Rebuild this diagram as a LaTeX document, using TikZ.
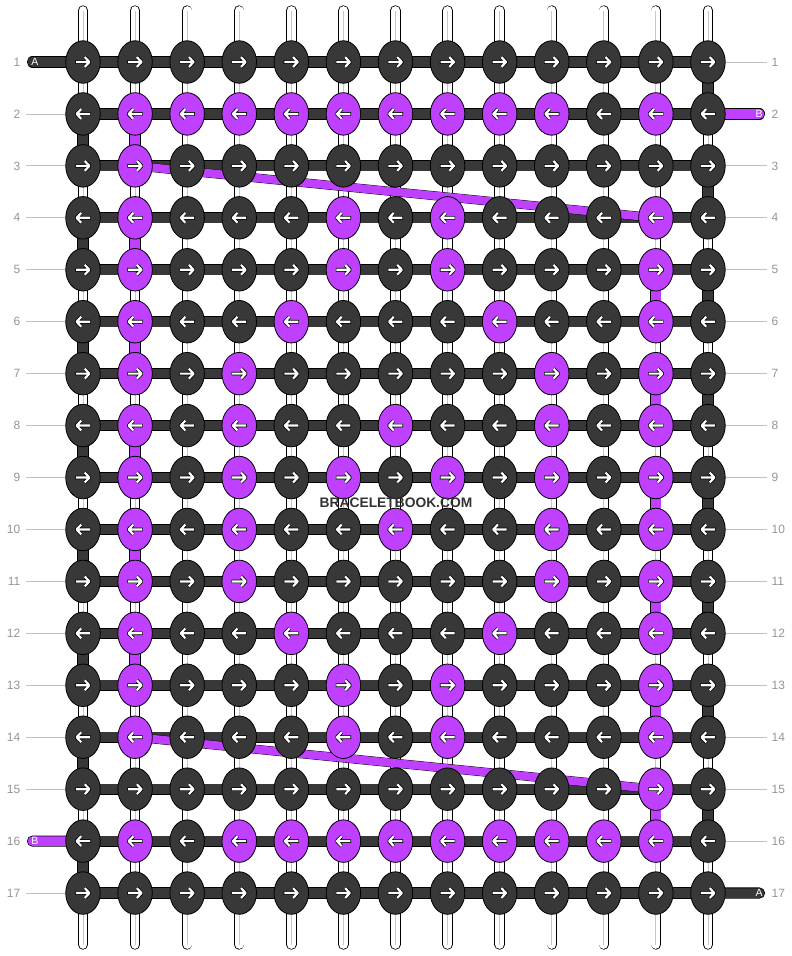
\documentclass[tikz,border=0pt]{standalone}
\usepackage{fontspec}
\setmainfont{Liberation Sans}
\usetikzlibrary{shapes.geometric}
\pgfdeclarelayer{threads}
\pgfsetlayers{threads,main}
\definecolor{knotdark}{RGB}{56,56,56}
\definecolor{knotpurple}{RGB}{192,64,255}
\tikzset{
x=1pt,y=-1pt, % one unit is one pixel of the chart
my knot/.style={draw=black,line width=0.8pt,ellipse,minimum width=34.5pt,minimum height=42.5pt,inner sep=0pt,fill=#1},
my bar/.style={draw=#1,line width=9.6pt,preaction={draw=black,line width=11.2pt}},
my end/.style={draw=#1,line width=9.6pt,line cap=round,preaction={draw=black,line width=11.2pt,line cap=round}},
my string/.style={draw=white,line width=8.8pt,line cap=round,preaction={draw=black,line width=10.4pt,line cap=round}},
my core/.style={draw=black!22,line width=0.8pt},
my band/.style={draw=knotpurple,line width=8.2pt,preaction={draw=black,line width=9pt}},
my guide/.style={draw=black!25,line width=0.8pt},
my label/.style={text=black!42,font=\fontsize{12}{14}\selectfont,inner xsep=5pt},
end label/.style={text=white,font=\fontsize{10.5}{12}\selectfont,inner sep=0pt},
knot arrow/.pic={
  \draw[black,line width=3.6pt,line join=round] (-7.6,0) -- (6.6,0) (1.8,-4.9) -- (6.6,0) -- (1.8,4.9);
  \draw[white,line width=2.2pt,line join=round] (-7,0) -- (6.4,0) (1.8,-4.9) -- (6.4,0) -- (1.8,4.9);
}
}
\begin{document}
\begin{tikzpicture}
\useasboundingbox (0,0) rectangle (792,956);

% knots, a 1 in the row list is a purple knot
\foreach \r/\row in {
  1/{0,0,0,0,0,0,0,0,0,0,0,0,0},
  2/{0,1,1,1,1,1,1,1,1,1,0,1,0},
  3/{0,1,0,0,0,0,0,0,0,0,0,0,0},
  4/{0,1,0,0,0,1,0,1,0,0,0,1,0},
  5/{0,1,0,0,0,1,0,1,0,0,0,1,0},
  6/{0,1,0,0,1,0,0,0,1,0,0,1,0},
  7/{0,1,0,1,0,0,0,0,0,1,0,1,0},
  8/{0,1,0,1,0,0,1,0,0,1,0,1,0},
  9/{0,1,0,1,0,1,0,1,0,1,0,1,0},
  10/{0,1,0,1,0,0,1,0,0,1,0,1,0},
  11/{0,1,0,1,0,0,0,0,0,1,0,1,0},
  12/{0,1,0,0,1,0,0,0,1,0,0,1,0},
  13/{0,1,0,0,0,1,0,1,0,0,0,1,0},
  14/{0,1,0,0,0,1,0,1,0,0,0,1,0},
  15/{0,0,0,0,0,0,0,0,0,0,0,1,0},
  16/{0,1,0,1,1,1,1,1,1,1,1,1,0},
  17/{0,0,0,0,0,0,0,0,0,0,0,0,0}} {
  \foreach \c in {1,...,13} {
    \pgfmathtruncatemacro\v{{\row}[\c-1]}
    \ifnum\v=1 \def\kfill{knotpurple}\else\def\kfill{knotdark}\fi
    \node[my knot=\kfill] (k-\r-\c) at ({83+52.08*(\c-1)},{62+51.94*(\r-1)}) {};
    \ifodd\r \pic at (k-\r-\c) {knot arrow}; \else \pic[xscale=-1] at (k-\r-\c) {knot arrow}; \fi
  }
  \node[my label,anchor=east] (ll-\r) at (25.5,{62+51.94*(\r-1)}) {\r};
  \node[my label,anchor=west] (lr-\r) at (766.5,{62+51.94*(\r-1)}) {\r};
}

% loose ends
\coordinate (end-1)  at (32.5,62);
\coordinate (end-2)  at (759.5,113.94);
\coordinate (end-16) at (32.5,841.1);
\coordinate (end-17) at (759.5,893.04);
\node[end label] (txt-1)  at (35,62)      {A};
\node[end label] (txt-2)  at (759,113.94) {B};
\node[end label] (txt-16) at (35,841.1)   {B};
\node[end label] (txt-17) at (759,893.04) {A};

\node[font=\bfseries\fontsize{13.8}{16}\selectfont,text=black!80] (brand) at (396,503) {BRACELETBOOK.COM};

\begin{pgfonlayer}{threads}
% guide lines to the row numbers
\foreach \r in {2,...,15,17} \draw[my guide] (ll-\r) -- (k-\r-1);
\foreach \r in {1,3,4,...,16} \draw[my guide] (k-\r-13) -- (lr-\r);
% warp strings
\foreach \c in {1,...,13} {
  \coordinate (top-\c) at ({83+52.08*(\c-1)},10.5);
  \coordinate (bot-\c) at ({83+52.08*(\c-1)},944.5);
  \draw[my string] (top-\c) -- (bot-\c);
  \draw[my core] (top-\c) -- (bot-\c);
}
% row threads
\foreach \r in {1,...,17} {
  \foreach \c in {1,...,12} {
    \pgfmathtruncatemacro\nc{\c+1}
    \draw[my bar=knotdark] (k-\r-\c.center) -- (k-\r-\nc.center);
  }
}
% turns at the edges
\foreach \r in {1,...,16} {
  \pgfmathtruncatemacro\nr{\r+1}
  \ifodd\r
    \draw[my bar=knotdark] (k-\r-13.center) -- (k-\nr-13.center);
  \else
    \draw[my bar=knotdark] (k-\r-1.center) -- (k-\nr-1.center);
  \fi
}
% purple thread
\foreach \r in {2,4,...,12} {
  \pgfmathtruncatemacro\nr{\r+1}
  \draw[my bar=knotpurple] (k-\r-2.center) -- (k-\nr-2.center);
}
\foreach \r in {5,7,...,15} {
  \pgfmathtruncatemacro\nr{\r+1}
  \draw[my bar=knotpurple] (k-\r-12.center) -- (k-\nr-12.center);
}
\draw[my band] (k-3-2.center) -- (k-4-12.center);
\draw[my band] (k-14-2.center) -- (k-15-12.center);
% ends
\draw[my end=knotdark]   (end-1)  -- (k-1-1.center);
\draw[my end=knotpurple] (end-2)  -- (k-2-13.center);
\draw[my end=knotpurple] (end-16) -- (k-16-1.center);
\draw[my end=knotdark]   (end-17) -- (k-17-13.center);
\end{pgfonlayer}
\end{tikzpicture}
\end{document}
